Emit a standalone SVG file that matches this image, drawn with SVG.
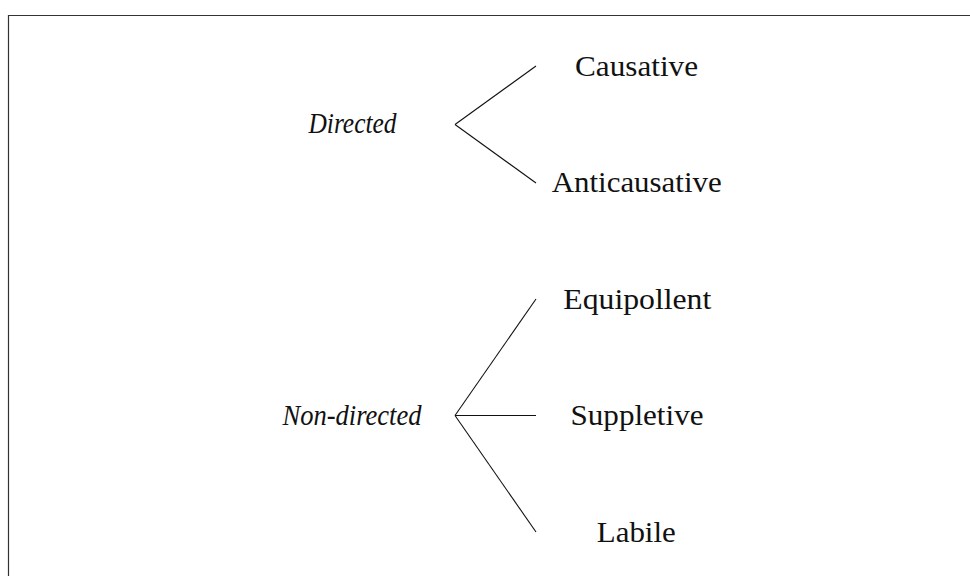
<svg xmlns="http://www.w3.org/2000/svg" width="970" height="576" viewBox="0 0 970 576">
  <style>
    .frame { fill: none; stroke: #333; stroke-width: 1.2; }
    .edge { fill: none; stroke: #111; stroke-width: 1.1; }
    .cat { font-family: "Liberation Serif", "DejaVu Serif", serif; font-style: italic; font-size: 30px; fill: #111; text-anchor: middle; }
    .type { font-family: "Liberation Serif", "DejaVu Serif", serif; font-size: 30px; fill: #111; text-anchor: middle; }
  </style>
  <rect width="970" height="576" fill="#fff"/>
  <!-- open frame: left and top sides only -->
  <path class="frame" d="M8.5,576 V15.5 H970"/>

  <g id="connectors">
    <line class="edge" x1="455" y1="124.5" x2="536" y2="66"/>
    <line class="edge" x1="455" y1="124.5" x2="536" y2="183"/>
    <line class="edge" x1="455" y1="415.5" x2="536" y2="299"/>
    <line class="edge" x1="455" y1="415.5" x2="536" y2="415.5"/>
    <line class="edge" x1="455" y1="415.5" x2="536" y2="532"/>
  </g>

  <g id="directed"><text class="cat" x="352.5" y="133" textLength="88" lengthAdjust="spacingAndGlyphs">Directed</text></g>
  <g id="non-directed"><text class="cat" x="352" y="425" textLength="139" lengthAdjust="spacingAndGlyphs">Non-directed</text></g>

  <g id="causative"><text class="type" x="636.5" y="75.5" textLength="123" lengthAdjust="spacingAndGlyphs">Causative</text></g>
  <g id="anticausative"><text class="type" x="636.7" y="192" textLength="170" lengthAdjust="spacingAndGlyphs">Anticausative</text></g>
  <g id="equipollent"><text class="type" x="637.3" y="308.5" textLength="148" lengthAdjust="spacingAndGlyphs">Equipollent</text></g>
  <g id="suppletive"><text class="type" x="637" y="425" textLength="133" lengthAdjust="spacingAndGlyphs">Suppletive</text></g>
  <g id="labile"><text class="type" x="636.3" y="541.5" textLength="79" lengthAdjust="spacingAndGlyphs">Labile</text></g>
</svg>
